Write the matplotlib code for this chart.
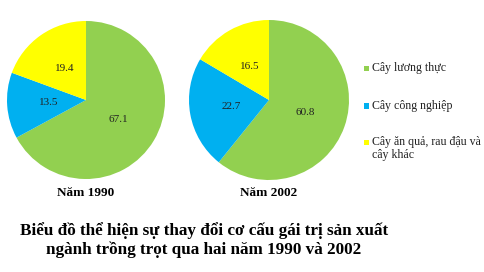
import matplotlib
matplotlib.use("Agg")
import matplotlib.pyplot as plt
from matplotlib.patches import Rectangle

categories = ["Cây lương thực", "Cây công nghiệp", "Cây ăn quả, rau đậu và\ncây khác"]
values_1990 = [67.1, 13.5, 19.4]
values_2002 = [60.8, 22.7, 16.5]
years = ["Năm 1990", "Năm 2002"]
colors = ["#92D050", "#00B0F0", "#FFFF00"]
title = "Biểu đồ thể hiện sự thay đổi cơ cấu gái trị sản xuất\nngành trồng trọt qua hai năm 1990 và 2002"

W, H = 485, 272
fig = plt.figure(figsize=(W / 100, H / 100), dpi=100)
fig.patch.set_facecolor("white")
serif = "Liberation Serif"

def px_axes(cx, cy, r):
    return fig.add_axes([(cx - r) / W, 1 - (cy + r) / H, 2 * r / W, 2 * r / H])

for (cx, cy, r), vals, yr in zip([(86, 100, 79), (269, 100, 80)],
                                 [values_1990, values_2002], years):
    ax = px_axes(cx, cy, r)
    wedges, texts, autotexts = ax.pie(
        vals, colors=colors, startangle=90, counterclock=False,
        autopct=lambda p: f"{p:.1f}", pctdistance=0.48,
        wedgeprops=dict(linewidth=0),
        textprops=dict(fontfamily=serif, fontsize=8, color="#222222"))
    ax.set_xlim(-1, 1)
    ax.set_ylim(-1, 1)
    ax.set_aspect("equal")
    ax.axis("off")
    fig.text(cx / W, 1 - 193 / H, yr, ha="center", va="center",
             fontfamily=serif, fontweight="bold", fontsize=9.5)

# legend
leg_y = [68, 106, 142]
for lab, col, y in zip(categories, colors, leg_y):
    fig.add_artist(Rectangle((364 / W, 1 - (y + 2.5) / H), 5 / W, 5 / H,
                             transform=fig.transFigure, facecolor=col, edgecolor="none"))
    fig.text(372 / W, 1 - (y - 6) / H, lab, ha="left", va="top",
             fontfamily=serif, fontsize=8.6, color="#222222", linespacing=1.15)

fig.text(204 / W, 1 - 240 / H, title, ha="center", va="center",
         fontfamily=serif, fontweight="bold", fontsize=12.3, linespacing=1.2)

fig.savefig("out.png", dpi=100)
